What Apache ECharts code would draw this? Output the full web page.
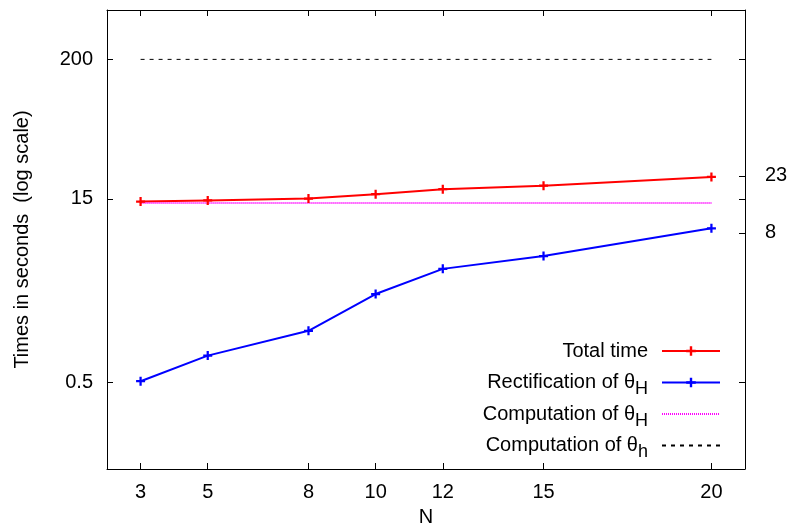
<!DOCTYPE html>
<html>
<head>
<meta charset="utf-8">
<script src="https://cdn.jsdelivr.net/npm/echarts@6/dist/echarts.min.js"></script>
<style>
html,body{margin:0;padding:0;background:#fff;}
#chart{width:790px;height:529px;}
</style>
</head>
<body>
<div id="chart"></div>
<script>
const N = [3, 5, 8, 10, 12, 15, 20];
const xTicks = [3, 5, 8, 10, 12, 15, 20];
const yTicksLeft = [0.5, 15, 200];
const yTicksRight = [8, 23];
const totalTime = [14.3, 14.6, 15.1, 16.4, 18.0, 19.2, 22.6];
const rectificationH = [0.51, 0.82, 1.3, 2.57, 4.1, 5.2, 8.7];
const computationH = [13.9, 13.9, 13.9, 13.9, 13.9, 13.9, 13.9];
const computationh = [200, 200, 200, 200, 200, 200, 200];
const seriesNames = ['Total time', 'Rectification of θH', 'Computation of θH', 'Computation of θh'];

const FONT = '"Liberation Sans", Arial, Helvetica, sans-serif';
const FS = 20;
const plus = 'path://M-1,-4H1V-1H4V1H1V4H-1V1H-4V-1H-1Z';
const pairs = arr => N.map((n, i) => [n, arr[i]]);

const legendLabels = {
  'Total time': '{a|Total time}{z| }',
  'Rectification of θH': '{a|Rectification of θ}{s|H}',
  'Computation of θH': '{a|Computation of θ}{s|H}',
  'Computation of θh': '{a|Computation of θ}{s|h}'
};

const chart = echarts.init(document.getElementById('chart'));
chart.setOption({
  animation: false,
  backgroundColor: '#fff',
  textStyle: {fontFamily: FONT},
  grid: {left: 107, right: 45, top: 10, bottom: 60, containLabel: false, outerBoundsMode: 'none'},
  xAxis: [{
    type: 'value', min: 2, max: 21, position: 'bottom',
    name: 'N', nameLocation: 'middle', nameGap: 38,
    nameTextStyle: {fontSize: FS, color: '#000', fontFamily: FONT},
    axisLine: {show: true, lineStyle: {color: '#000', width: 1}},
    axisTick: {show: true, inside: true, length: 6, customValues: xTicks, lineStyle: {color: '#000'}},
    axisLabel: {customValues: xTicks, fontSize: FS, color: '#000', margin: 13, fontFamily: FONT},
    splitLine: {show: false}
  }, {
    type: 'value', min: 2, max: 21, position: 'top',
    axisLine: {show: true, onZero: false, lineStyle: {color: '#000', width: 1}},
    axisTick: {show: true, inside: true, length: 6, customValues: xTicks, lineStyle: {color: '#000'}},
    axisLabel: {show: false},
    splitLine: {show: false}
  }],
  yAxis: [{
    type: 'log', min: 0.1, max: 500, position: 'left',
    name: 'Times in seconds  (log scale)', nameLocation: 'middle', nameGap: 75, nameRotate: 90,
    nameTextStyle: {fontSize: FS, color: '#000', fontFamily: FONT},
    axisLine: {show: true, lineStyle: {color: '#000', width: 1}},
    axisTick: {show: true, inside: true, length: 6, customValues: yTicksLeft, lineStyle: {color: '#000'}},
    axisLabel: {customValues: yTicksLeft, fontSize: FS, color: '#000', margin: 14, fontFamily: FONT},
    splitLine: {show: false}
  }, {
    type: 'log', min: 0.1, max: 500, position: 'right',
    axisLine: {show: true, lineStyle: {color: '#000', width: 1}},
    axisTick: {show: true, inside: true, length: 6, customValues: yTicksLeft.concat(yTicksRight), lineStyle: {color: '#000'}},
    axisLabel: {customValues: yTicksRight, fontSize: FS, color: '#000', margin: 20, fontFamily: FONT},
    splitLine: {show: false}
  }],
  legend: {
    orient: 'vertical', right: 69, top: 341, padding: 0,
    align: 'right', itemWidth: 58, itemHeight: 12, itemGap: 5.5,
    data: [
      {name: seriesNames[0]},
      {name: seriesNames[1]},
      {name: seriesNames[2], itemStyle: {opacity: 0}},
      {name: seriesNames[3], itemStyle: {opacity: 0}}
    ],
    formatter: name => legendLabels[name],
    textStyle: {
      fontSize: FS, color: '#000', fontFamily: FONT, padding: [0, 9, 0, 0],
      rich: {
        a: {fontSize: FS, color: '#000', fontFamily: FONT, lineHeight: 20, verticalAlign: 'top'},
        s: {fontSize: 18, color: '#000', fontFamily: FONT, lineHeight: 20, padding: [8, 0, 0, 0], verticalAlign: 'top'},
        z: {fontSize: 18, color: '#000', fontFamily: FONT, lineHeight: 20, width: 0, padding: [8, 0, 0, 0], verticalAlign: 'top'}
      }
    }
  },
  series: [{
    name: seriesNames[0], type: 'line', data: pairs(totalTime),
    symbol: plus, symbolSize: 9,
    lineStyle: {color: '#ff0000', width: 2}, itemStyle: {color: '#ff0000'}
  }, {
    name: seriesNames[1], type: 'line', data: pairs(rectificationH),
    symbol: plus, symbolSize: 9,
    lineStyle: {color: '#0000ff', width: 2}, itemStyle: {color: '#0000ff'}
  }, {
    name: seriesNames[2], type: 'line', data: pairs(computationH),
    symbol: 'none',
    lineStyle: {color: '#ff00ff', width: 2, type: [1, 1]}, itemStyle: {color: '#ff00ff'}
  }, {
    name: seriesNames[3], type: 'line', data: pairs(computationh),
    symbol: 'none',
    lineStyle: {color: '#000000', width: 1, type: [4, 5]}, itemStyle: {color: '#000000'}
  }]
});
</script>
</body>
</html>
